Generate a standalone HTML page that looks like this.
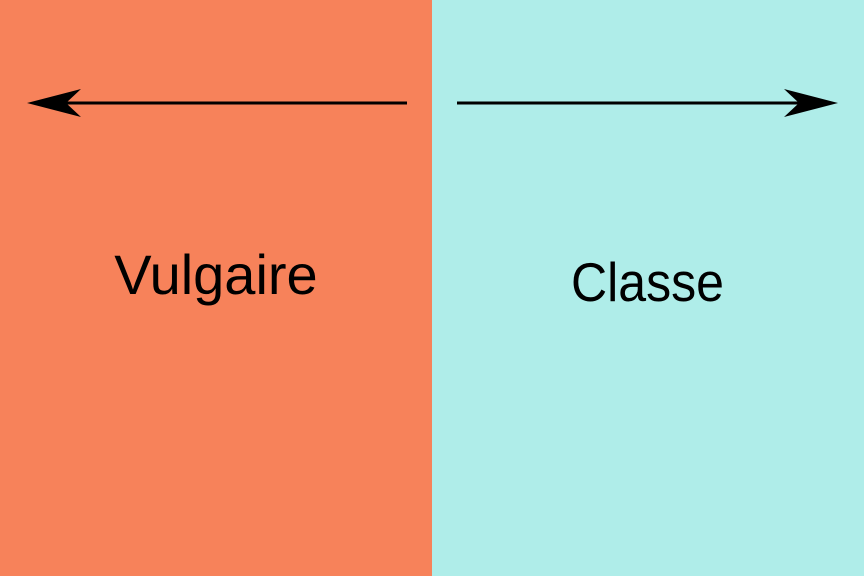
<!DOCTYPE html>
<html><head><meta charset="utf-8"><style>
html,body{margin:0;padding:0;width:864px;height:576px;overflow:hidden;}
svg{display:block}
text{font-family:"Liberation Sans",sans-serif;}
</style></head><body>
<svg width="864" height="576" viewBox="0 0 864 576">
  <rect x="0" y="0" width="432" height="576" fill="#F7825A"/>
  <rect x="432" y="0" width="432" height="576" fill="#AFEDE9"/>
  <g>
    <line x1="407" y1="103" x2="40" y2="103" stroke="#000" stroke-width="3"/>
    <path d="M27,103 L81,89 L66,103 L81,117 Z" fill="#000"/>
  </g>
  <g>
    <line x1="457" y1="103" x2="825" y2="103" stroke="#000" stroke-width="3"/>
    <path d="M838,103 L784,89 L799,103 L784,117 Z" fill="#000"/>
  </g>
  <text x="216" y="294" font-size="56" text-anchor="middle" fill="#000">Vulgaire</text>
  <text x="571" y="301" font-size="55" textLength="153" lengthAdjust="spacingAndGlyphs" fill="#000">Classe</text>
</svg>
</body></html>
